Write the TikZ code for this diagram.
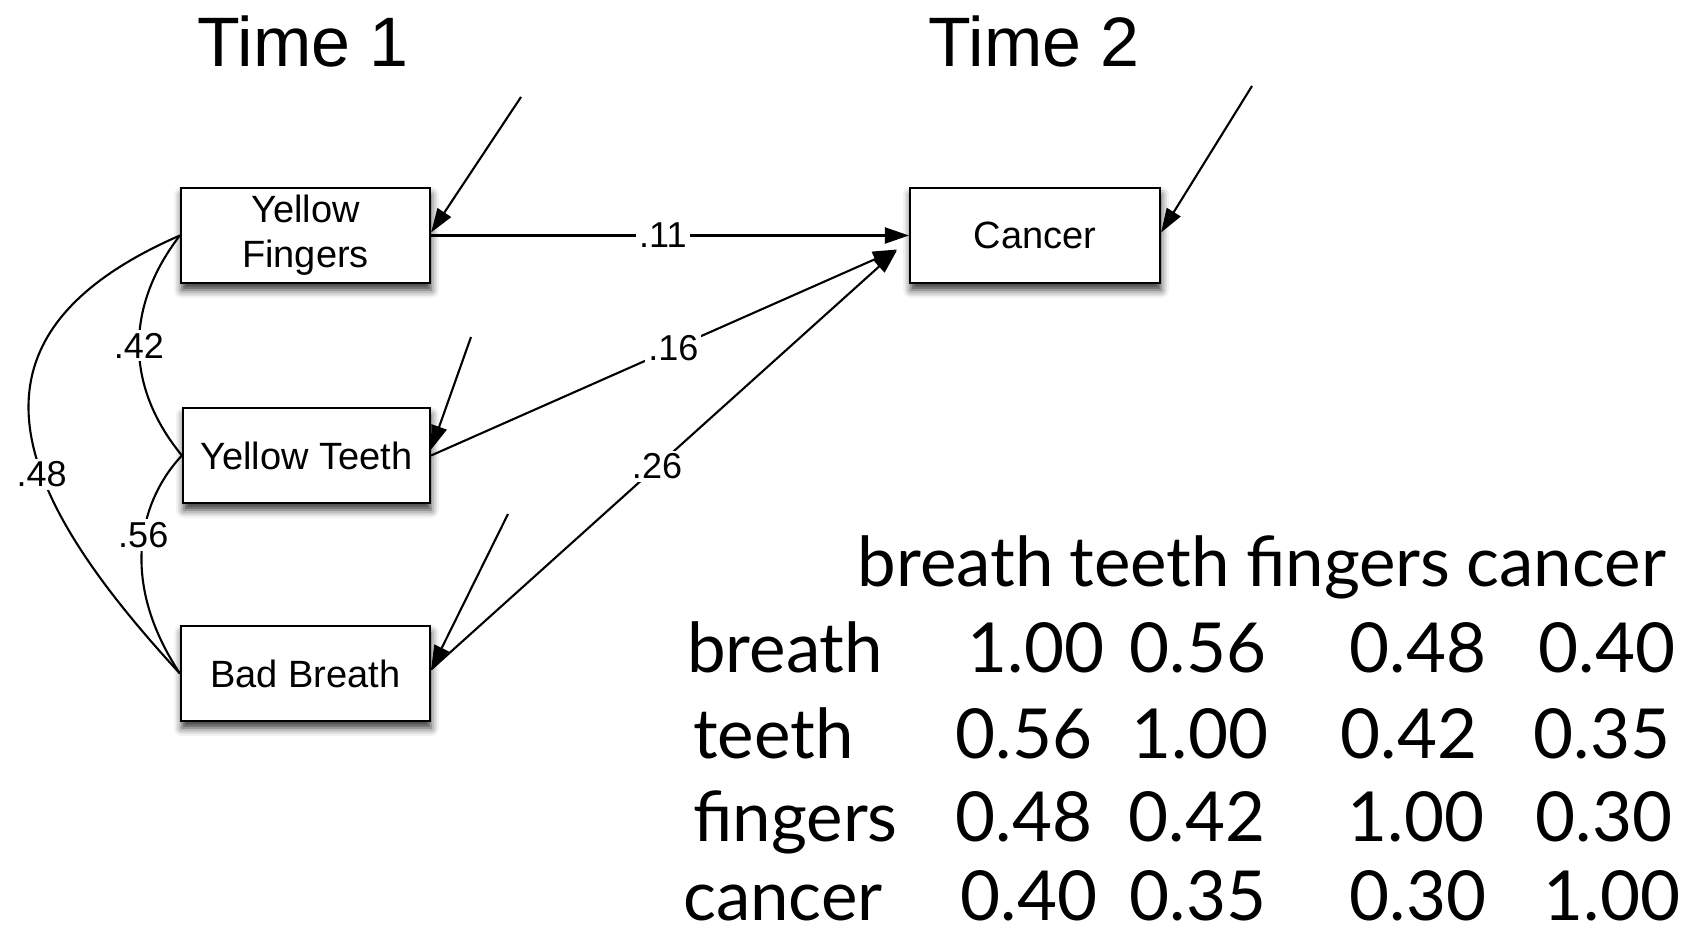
\documentclass[tikz,border=0pt]{standalone}
\usepackage{fontspec}
\setmainfont{Liberation Sans}
\newfontfamily\tabfont{Lato}
\usetikzlibrary{arrows.meta,shadows.blur}
\begin{document}
\begin{tikzpicture}[x=1pt,y=-1pt,
  box/.style={draw, line width=2.2pt, fill=white, minimum width=249pt, minimum height=95pt,
    inner sep=0pt, align=center, font=\fontsize{38}{45}\selectfont,
    blur shadow={shadow xshift=1pt, shadow yshift=-7pt, shadow blur radius=8pt, shadow opacity=80}},
  coef/.style={fill=white, inner sep=3pt, font=\fontsize{36}{40}\selectfont},
  conn/.style={line width=2.1pt, -{Triangle[length=24pt,width=16pt]}},
  corr/.style={line width=2.1pt},
  title/.style={anchor=base, inner sep=0pt, font=\fontsize{70}{80}\selectfont},
  tlab/.style={anchor=base west, inner sep=0pt, font=\tabfont\fontsize{69}{76}\selectfont},
  tnum/.style={anchor=base, inner sep=0pt, font=\tabfont\fontsize{69}{76}\selectfont}
]
\useasboundingbox (0,0) rectangle (1692,933);

\node[title] (t1) at (303,67) {Time 1};
\node[title] (t2) at (1034,67) {Time 2};

\node[box] (yf) at (305.5,235.5) {Yellow\\Fingers};
\node[box, minimum width=247pt] (yt) at (306.5,455.5) {Yellow Teeth};
\node[box] (bb) at (305.5,673.5) {Bad Breath};
\node[box, minimum width=250pt] (ca) at (1035,235.5) {Cancer};

\coordinate (e1) at (521,97);
\coordinate (e2) at (471,337);
\coordinate (e3) at (508,514);
\coordinate (e4) at (1252,86);

% error arrows
\draw[conn] (e1) -- ([yshift=3pt]yf.east);
\draw[conn] (e2) -- ([yshift=6pt]yt.east);
\draw[conn] (e3) -- ([yshift=4pt]bb.east);
\draw[conn] (e4) -- ([yshift=3pt]ca.east);

% paths to cancer
\draw[conn] (yf.east) -- node[coef, pos=0.485] (l11) {.11} (ca.west);
\draw[conn] (yt.east) -- node[coef, pos=0.52] (l16) {.16} ([xshift=-12pt,yshift=-14pt]ca.west);
\draw[conn] ([yshift=4pt]bb.east) -- node[coef, pos=0.485] (l26) {.26} ([xshift=-12pt,yshift=-15pt]ca.west);

% correlations
\draw[corr] (yf.west) .. controls (130,300) and (120,380) .. node[coef, pos=0.52] (l42) {.42} (yt.west);
\draw[corr] (yt.west) .. controls (140,500) and (118,580) .. node[coef, pos=0.45] (l56) {.56} (bb.west);
\draw[corr] (yf.west) .. controls (-60,340) and (20,500) .. node[coef, pos=0.6] (l48) {.48} (bb.west);

% table
\node[tnum] (hd) at (1262,586) {\spaceskip=16pt\relax breath teeth fingers cancer};

\node[tlab] (r1) at (687,672) {breath};
\node[tlab] (r2) at (693,758) {teeth};
\node[tlab] (r3) at (693,841) {fingers};
\node[tlab] (r4) at (683,920) {cancer};

\node[tnum] (c11) at (1036,672) {1.00};
\node[tnum] (c12) at (1198,672) {0.56};
\node[tnum] (c13) at (1418,672) {0.48};
\node[tnum] (c14) at (1607,672) {0.40};

\node[tnum] (c21) at (1024,758) {0.56};
\node[tnum] (c22) at (1200,758) {1.00};
\node[tnum] (c23) at (1409,758) {0.42};
\node[tnum] (c24) at (1602,758) {0.35};

\node[tnum] (c31) at (1024,841) {0.48};
\node[tnum] (c32) at (1197,841) {0.42};
\node[tnum] (c33) at (1416,841) {1.00};
\node[tnum] (c34) at (1604,841) {0.30};

\node[tnum] (c41) at (1029,920) {0.40};
\node[tnum] (c42) at (1198,920) {0.35};
\node[tnum] (c43) at (1418,920) {0.30};
\node[tnum] (c44) at (1612,920) {1.00};
\end{tikzpicture}
\end{document}
